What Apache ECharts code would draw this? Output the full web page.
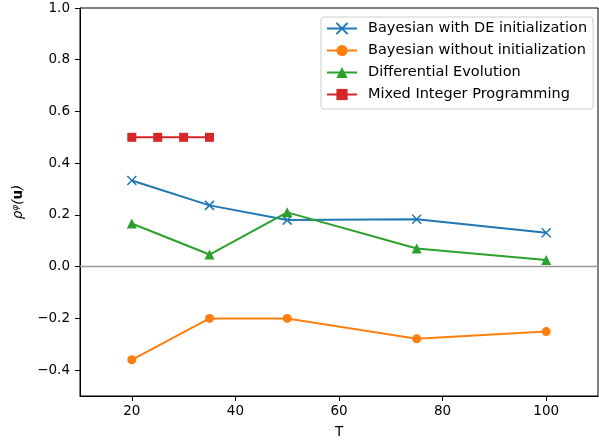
<!DOCTYPE html>
<html><head><meta charset="utf-8">
<script src="https://cdn.jsdelivr.net/npm/echarts@6/dist/echarts.min.js"></script>
<style>html,body{margin:0;padding:0;background:#fff}#c{width:599px;height:440px}</style>
</head><body><div id="c"></div>
<script>
const T = [20, 35, 50, 75, 100];
const tMIP = [20, 25, 30, 35];
const bayesDE = [0.333, 0.237, 0.180, 0.183, 0.131];
const bayesNoInit = [-0.36, -0.20, -0.20, -0.279, -0.251];
const diffEvo = [0.167, 0.047, 0.210, 0.070, 0.026];
const mip = [0.5, 0.5, 0.5, 0.5];
const xTicks = [20, 40, 60, 80, 100];
const yTicks = [-0.4, -0.2, 0.0, 0.2, 0.4, 0.6, 0.8, 1.0];
const names = ['Bayesian with DE initialization','Bayesian without initialization','Differential Evolution','Mixed Integer Programming'];
const colors = ['#1f77b4','#ff7f0e','#2ca02c','#d62728'];

const pair = (xs, ys) => xs.map((x, i) => [x, ys[i]]);
const font = 'DejaVu Sans';
const fs = 13.5;
const xPath = 'path://M0,0L10,10M10,0L0,10';

const chart = echarts.init(document.getElementById('c'), null, {renderer:'canvas'});
function mk(name, xs, ys, color, symbol, size, extra) {
  return Object.assign({
    name, type:'line', data: pair(xs, ys), color,
    symbol, symbolSize: size,
    lineStyle:{width:2, color},
    itemStyle:{color, borderColor: color, borderWidth: symbol===xPath?1.5:0},
    emphasis:{disabled:true}, animation:false, z:3
  }, extra||{});
}
chart.setOption({
  animation:false,
  grid:{left:80, right:1, top:8, bottom:44, show:true, borderColor:'#000', borderWidth:1, outerBoundsMode:'none', containLabel:false},
  xAxis:{type:'value', min:10, max:110,
    name:'T', nameLocation:'middle', nameGap:29,
    nameTextStyle:{fontFamily:font, fontSize:fs, color:'#000'},
    axisLine:{onZero:false, lineStyle:{color:'#000', width:1}},
    axisTick:{show:true, length:5, customValues:xTicks, lineStyle:{color:'#000'}},
    axisLabel:{customValues:xTicks, margin:8, fontFamily:font, fontSize:fs, color:'#000'},
    splitLine:{show:false}},
  yAxis:{type:'value', min:-0.5, max:1.0,
    name:'{r|ρ}{s|φ}{r|(}{b|u}{r|)}', nameLocation:'middle', nameGap:54,
    nameTextStyle:{fontFamily:font, fontSize:fs, color:'#000',
      rich:{r:{fontFamily:font, fontSize:fs, color:'#000', fontStyle:'italic'},
            s:{fontFamily:font, fontSize:9, color:'#000', verticalAlign:'top', fontStyle:'italic', padding:[0,0,6,0]},
            b:{fontFamily:font, fontSize:fs, color:'#000', fontWeight:'bold'}}},
    axisLine:{show:true, onZero:false, lineStyle:{color:'#000', width:1}},
    axisTick:{show:true, length:5, customValues:yTicks, lineStyle:{color:'#000'}},
    axisLabel:{customValues:yTicks, margin:10, fontFamily:font, fontSize:fs, color:'#000',
      formatter: v => v.toFixed(1).replace('-', '\u2212')},
    splitLine:{show:false}},
  legend:{show:true, orient:'vertical', left:321, top:17, data:names,
    itemWidth:30, itemHeight:14, itemGap:7, padding:[4,6,7,5],
    borderColor:'#ccc', borderWidth:1, borderRadius:3, backgroundColor:'rgba(255,255,255,0.8)',
    textStyle:{fontFamily:font, fontSize:14.5, color:'#000', padding:[0,0,0,6]}},
  series:[
    mk(names[0], T, bayesDE, colors[0], xPath, 9, {
      markLine:{silent:true, symbol:'none', label:{show:false}, animation:false,
        lineStyle:{color:'#999', width:1.3, type:'solid'}, data:[{yAxis:0}]}}),
    mk(names[1], T, bayesNoInit, colors[1], 'circle', 9),
    mk(names[2], T, diffEvo, colors[2], 'triangle', 10),
    mk(names[3], tMIP, mip, colors[3], 'rect', 9)
  ]
});
</script></body></html>
